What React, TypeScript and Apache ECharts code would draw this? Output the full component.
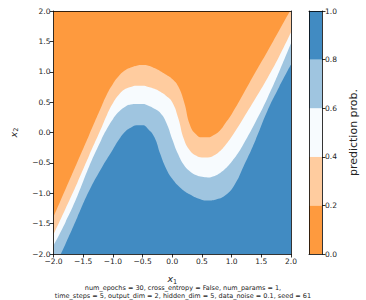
import React, { useEffect, useRef } from "react";
import * as echarts from "echarts";

// Contour boundaries: [x1, x2] pairs
const level02 = [
  [-2.0, -1.39], [-1.8, -0.94], [-1.6, -0.49], [-1.4, -0.04], [-1.2, 0.41], [-1.1, 0.63],
  [-1.0, 0.8], [-0.9, 0.93], [-0.8, 1.02], [-0.7, 1.07], [-0.6, 1.1], [-0.5, 1.11],
  [-0.4, 1.1], [-0.3, 1.06], [-0.2, 1.01], [-0.1, 0.95], [0.0, 0.88], [0.1, 0.76],
  [0.2, 0.5], [0.3, 0.12], [0.4, -0.03], [0.5, -0.08], [0.6, -0.08], [0.7, -0.04],
  [0.8, 0.03], [0.9, 0.16], [1.0, 0.3], [1.2, 0.64], [1.4, 0.99], [1.6, 1.33],
  [1.8, 1.68], [2.0, 2.03],
];
const level04 = [
  [-2.0, -1.68], [-1.8, -1.26], [-1.6, -0.83], [-1.4, -0.38], [-1.2, 0.06], [-1.1, 0.29],
  [-1.0, 0.48], [-0.9, 0.62], [-0.8, 0.71], [-0.7, 0.75], [-0.6, 0.77], [-0.5, 0.77],
  [-0.4, 0.75], [-0.3, 0.72], [-0.2, 0.67], [-0.1, 0.6], [0.0, 0.5], [0.1, 0.24],
  [0.2, -0.12], [0.3, -0.3], [0.4, -0.38], [0.5, -0.41], [0.6, -0.41], [0.7, -0.38],
  [0.8, -0.31], [0.9, -0.2], [1.0, -0.07], [1.2, 0.24], [1.4, 0.56], [1.6, 0.89],
  [1.8, 1.25], [2.0, 1.65],
];
const level06 = [
  [-2.0, -1.86], [-1.8, -1.48], [-1.6, -1.05], [-1.4, -0.56], [-1.2, -0.13], [-1.1, 0.06],
  [-1.0, 0.22], [-0.9, 0.34], [-0.8, 0.42], [-0.7, 0.46], [-0.6, 0.47], [-0.5, 0.47],
  [-0.4, 0.44], [-0.3, 0.39], [-0.2, 0.32], [-0.1, 0.16], [0.0, -0.11], [0.1, -0.36],
  [0.2, -0.54], [0.3, -0.64], [0.4, -0.7], [0.5, -0.73], [0.6, -0.74], [0.7, -0.72],
  [0.8, -0.67], [0.9, -0.59], [1.0, -0.48], [1.1, -0.35], [1.2, -0.19], [1.4, 0.17],
  [1.6, 0.56], [1.8, 1.0], [2.0, 1.47],
];
const level08 = [
  [-2.0, -2.25], [-1.8, -1.84], [-1.6, -1.4], [-1.4, -0.96], [-1.2, -0.6], [-1.0, -0.28],
  [-0.9, -0.12], [-0.8, 0.01], [-0.7, 0.08], [-0.6, 0.12], [-0.5, 0.12], [-0.4, 0.05],
  [-0.3, -0.08], [-0.2, -0.36], [-0.1, -0.6], [0.0, -0.76], [0.15, -0.92], [0.3, -1.02],
  [0.45, -1.09], [0.6, -1.12], [0.75, -1.1], [0.9, -1.03], [1.05, -0.86], [1.2, -0.56],
  [1.4, -0.13], [1.6, 0.35], [1.8, 0.75], [2.0, 1.12],
];

const bandColors = ["#fe9a3e", "#ffcc9f", "#f7fbfe", "#9fc5e0", "#418bc2"];
const colorbarSteps = [0.2, 0.2, 0.2, 0.2, 0.2];
const caption = [
  "num_epochs = 30, cross_entropy = False, num_params = 1,",
  "time_steps = 5, output_dim = 2, hidden_dim = 5, data_noise = 0.1, seed = 61",
];

const FONT = "DejaVu Sans";
const TXT = "#222";
const fmt = (v: number) => v.toFixed(1).replace("-", "\u2212");

export default function App() {
  const ref = useRef<HTMLDivElement>(null);
  useEffect(() => {
    document.body.style.margin = "0";
    const chart = echarts.init(ref.current!, null, { renderer: "svg" });
    const axisLine = { show: true, onZero: false, lineStyle: { color: "#000", width: 0.8 } };
    const tick = { show: true, length: 3.5, inside: false, lineStyle: { color: "#000", width: 0.8 } };
    const label = { fontSize: 7.5, color: TXT, fontFamily: FONT, margin: 3 };
    const levels = [level02, level04, level06, level08];
    const sub = {
      i: { fontStyle: "italic", fontSize: 9.5, fontFamily: FONT, color: TXT },
      s: { fontSize: 6.5, fontFamily: FONT, color: TXT, padding: [6, 0, 0, 0] },
    };
    const option: any = {
      animation: false,
      grid: [
        { left: 48.5, top: 11, width: 242.5, height: 243, show: true, backgroundColor: bandColors[0], borderWidth: 0 },
        { left: 309, top: 11, width: 13, height: 243, show: false },
      ],
      xAxis: [
        {
          gridIndex: 0, type: "value", min: -2, max: 2, interval: 0.5, position: "bottom", z: 10,
          axisLine, axisTick: tick, axisLabel: { ...label, formatter: fmt }, splitLine: { show: false },
          name: "{i|x}{s|1}", nameLocation: "middle", nameGap: 18, nameTextStyle: { rich: sub },
        },
        {
          gridIndex: 0, type: "value", min: -2, max: 2, position: "top", z: 10,
          axisLine, axisTick: { show: false }, axisLabel: { show: false }, splitLine: { show: false },
        },
        {
          gridIndex: 1, type: "category", data: ["p"], position: "bottom", z: 10,
          axisLine, axisTick: { show: false }, axisLabel: { show: false },
        },
        {
          gridIndex: 1, type: "category", data: ["p"], position: "top", z: 10,
          axisLine, axisTick: { show: false }, axisLabel: { show: false },
        },
      ],
      yAxis: [
        {
          gridIndex: 0, type: "value", min: -2, max: 2, interval: 0.5, position: "left", z: 10,
          axisLine, axisTick: tick, axisLabel: { ...label, formatter: fmt }, splitLine: { show: false },
          name: "{i|x}{s|2}", nameLocation: "middle", nameGap: 34, nameRotate: 90, nameTextStyle: { rich: sub },
        },
        {
          gridIndex: 0, type: "value", min: -2, max: 2, position: "right", z: 10,
          axisLine, axisTick: { show: false }, axisLabel: { show: false }, splitLine: { show: false },
        },
        {
          gridIndex: 1, type: "value", min: 0, max: 1, interval: 0.2, position: "right", z: 10,
          axisLine, axisTick: tick, axisLabel: { ...label, formatter: (v: number) => v.toFixed(1) },
          splitLine: { show: false },
          name: "prediction prob.", nameLocation: "middle", nameGap: 26, nameRotate: 90,
          nameTextStyle: { fontSize: 11, fontFamily: FONT, color: TXT },
        },
        {
          gridIndex: 1, type: "value", min: 0, max: 1, position: "left", z: 10,
          axisLine, axisTick: { show: false }, axisLabel: { show: false }, splitLine: { show: false },
        },
      ],
      series: [
        ...levels.map((d, k) => ({
          type: "line", xAxisIndex: 0, yAxisIndex: 0, data: d, smooth: 0.5,
          symbol: "none", clip: true, z: 2 + k * 0.01,
          lineStyle: { width: 0 },
          areaStyle: { color: bandColors[k + 1], opacity: 1, origin: "start" },
          silent: true,
        })),
        ...colorbarSteps.map((v, k) => ({
          type: "bar", xAxisIndex: 2, yAxisIndex: 2, stack: "cb", data: [v], barWidth: "100%",
          itemStyle: { color: bandColors[k] }, silent: true,
        })),
      ],
      graphic: [
        {
          type: "text", left: "center", top: 284,
          style: {
            text: caption.join("\n"), textAlign: "center", fontSize: 6.5, lineHeight: 8,
            fontFamily: FONT, fill: TXT,
          },
        },
      ],
    };
    chart.setOption(option);
    return () => chart.dispose();
  }, []);
  return <div ref={ref} style={{ width: 366, height: 300 }} />;
}
